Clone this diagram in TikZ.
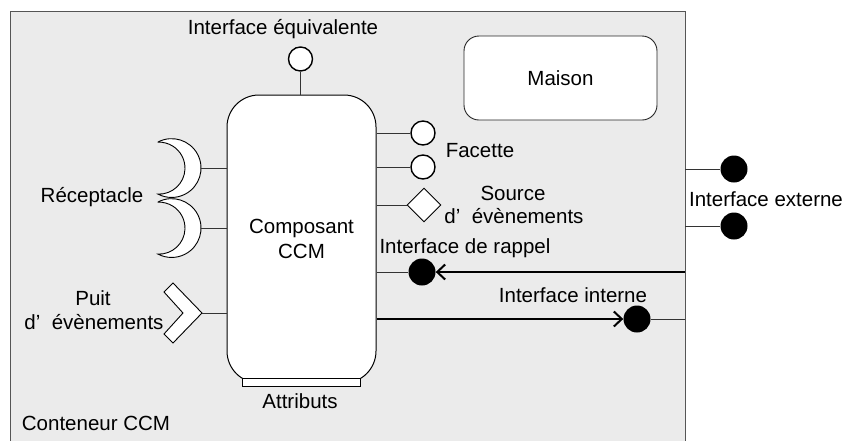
\documentclass[tikz,border=0pt]{standalone}
\usepackage{fontspec}
\setmainfont{Liberation Sans}
\usetikzlibrary{shapes.geometric,arrows.meta}
\definecolor{contfill}{HTML}{EBEBEB}
\definecolor{edge}{HTML}{555555}
\begin{document}
\begin{tikzpicture}[x=1pt,y=-1pt,
  font=\fontsize{20.5}{25}\selectfont,
  conn/.style={draw=black!80, line width=0.9},
  openc/.style={circle, draw=black, line width=1.4, fill=white, minimum size=24, inner sep=0},
  fullc/.style={circle, fill=black, minimum size=27, inner sep=0},
  lbl/.style={inner sep=0, align=center},
  bigarrow/.style={draw=black, line width=2, -{Straight Barb[length=8,width=15]}},
  recep/.style={draw=black, line width=0.9, fill=white}
]
\useasboundingbox (0,0) rectangle (844,440);
% container
\fill[contfill] (10,11) rectangle (685,441);
\draw[edge, line width=1] (10,441) -- (10,11) -- (685,11) -- (685,441);
\node[lbl] (contlbl) at (96,423) {Conteneur CCM};

% Maison
\node[draw=black!85, line width=0.9, fill=white, rounded corners=15,
      minimum width=193, minimum height=84] (maison) at (560.5,78) {Maison};

% component
\node[draw=black, line width=1, fill=white, rounded corners=32,
      minimum width=149, minimum height=288, align=center] (comp) at (301.5,239)
      {Composant\\CCM};
\node[draw=black, line width=0.9, fill=white, minimum width=118, minimum height=8,
      inner sep=0] (attr) at (301,382) {};
\node[lbl] (attrlbl) at (300,401) {Attributs};

% interface equivalente
\node[openc] (equiv) at (300.5,59) {};
\draw[conn] (equiv) -- (equiv |- comp.north);
\node[lbl] (equivlbl) at (283,29) {Interface équivalente};

% facettes
\node[openc] (fac1) at (423,133) {};
\node[openc] (fac2) at (423,167) {};
\draw[conn] (comp.east |- fac1) -- (fac1);
\draw[conn] (comp.east |- fac2) -- (fac2);
\node[lbl] (faclbl) at (480,151) {Facette};

% source
\node[diamond, draw=black, line width=0.9, fill=white, minimum size=34, inner sep=0] (src) at (424,205) {};
\draw[conn] (comp.east |- src) -- (src);
\node[lbl] (srclbl1) at (513,193) {Source};
\node[lbl] (srclbl2) at (514,216) {d'~\ évènements};

% interface de rappel
\node[fullc] (rappel) at (422,272) {};
\coordinate (rapedge) at (685,272);
\draw[conn] (comp.east |- rappel) -- (rappel);
\draw[bigarrow] (rapedge) -- (rappel);
\node[lbl] (raplbl) at (465,248) {Interface de rappel};

% interface interne
\node[fullc] (interne) at (637,319) {};
\coordinate (intedge) at (685,319);
\draw[bigarrow] (comp.east |- interne) -- (interne);
\draw[conn] (interne) -- (intedge);
\node[lbl] (intlbl) at (573,295) {Interface interne};

% interface externe
\node[fullc] (ext1) at (734,169) {};
\node[fullc] (ext2) at (734,226) {};
\coordinate (extedge1) at (685,169);
\coordinate (extedge2) at (685,226);
\draw[conn] (extedge1) -- (ext1);
\draw[conn] (extedge2) -- (ext2);
\node[lbl] (extlbl) at (766,199) {Interface externe};

% receptacles
\draw[recep] (158,142) arc[start angle=-117.6, end angle=117.6, radius=29.4]
  arc[start angle=92.2, end angle=-92.2, radius=26] -- cycle;
\coordinate (rec1) at (201,168);
\draw[recep] (158,202) arc[start angle=-117.6, end angle=117.6, radius=29.4]
  arc[start angle=92.2, end angle=-92.2, radius=26] -- cycle;
\coordinate (rec2) at (201,228);
\draw[conn] (rec1) -- (comp.west |- rec1);
\draw[conn] (rec2) -- (comp.west |- rec2);
\node[lbl] (reclbl) at (92,197) {Réceptacle};

% puit
\draw[recep, line join=miter] (173,283) -- (202,313) -- (173,343) -- (164,334) -- (183,313) -- (164,292) -- cycle;
\coordinate (puit) at (202,313);
\draw[conn] (puit) -- (comp.west |- puit);
\node[lbl] (puitlbl1) at (93,298) {Puit};
\node[lbl] (puitlbl2) at (94,322) {d'~\ évènements};
\end{tikzpicture}
\end{document}
